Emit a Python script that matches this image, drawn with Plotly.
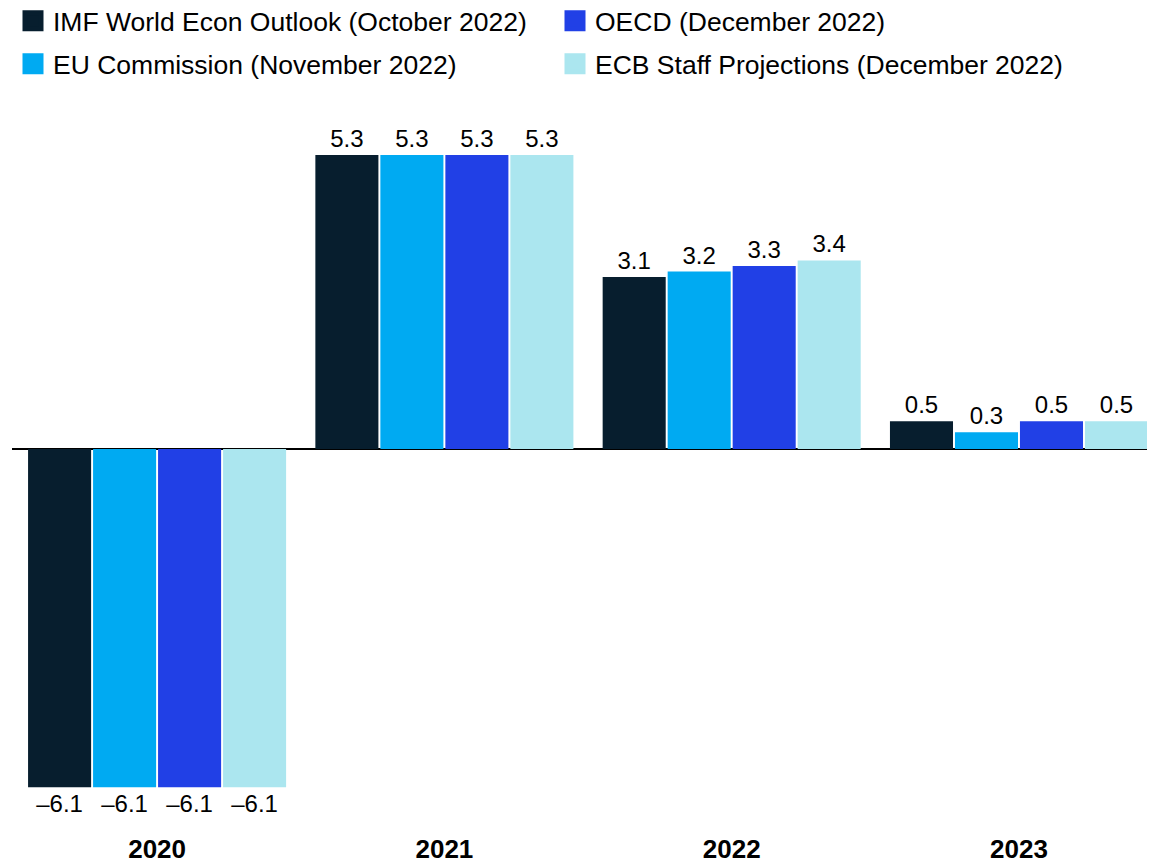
import plotly.graph_objects as go

years = ["2020", "2021", "2022", "2023"]
series_names = [
    "IMF World Econ Outlook (October 2022)",
    "EU Commission (November 2022)",
    "OECD (December 2022)",
    "ECB Staff Projections (December 2022)",
]
imf = [-6.1, 5.3, 3.1, 0.5]
eu = [-6.1, 5.3, 3.2, 0.3]
oecd = [-6.1, 5.3, 3.3, 0.5]
ecb = [-6.1, 5.3, 3.4, 0.5]
values = [imf, eu, oecd, ecb]
colors = ["#071e2e", "#00aaf2", "#2140e6", "#abe6ef"]
legend_ids = ["legend", "legend2", "legend", "legend2"]
ranks = [1, 3, 2, 4]

FONT = "Liberation Sans, Arial, sans-serif"


def fmt(v):
    return f"{v:.1f}".replace("-", "\u2013")


fig = go.Figure()
for name, vals, col in zip(series_names, values, colors):
    fig.add_trace(go.Bar(
        x=years, y=vals, name=name, showlegend=False,
        marker=dict(color=col, line=dict(width=0)),
        text=[fmt(v) for v in vals],
        textposition="outside",
        textfont=dict(family=FONT, size=24, color="#000000"),
        cliponaxis=False,
    ))

# legend entries (square swatches)
for name, col, lg, rk in zip(series_names, colors, legend_ids, ranks):
    fig.add_trace(go.Scatter(
        x=[None], y=[None], mode="markers", name=name,
        marker=dict(symbol="square", size=16, color=col,
                    line=dict(color=col, width=5)),
        legend=lg, legendrank=rk, hoverinfo="skip",
    ))

# page has an 8px body margin, so the figure is drawn 8px in from the corner
W, H = 1147, 857
top, bot = 92, 823
px_per_unit = 55.45
zero_px = 441
y_max = (zero_px - top) / px_per_unit
y_min = -(bot - zero_px) / px_per_unit
left = 4
cat_px = 287.3
x0 = -0.505
x1 = x0 + (W - left) / cat_px


def cy(px):
    return 1 - px / H


legend_common = dict(
    orientation="h", xref="container", yref="container",
    xanchor="left", yanchor="middle", x=5 / W,
    entrywidth=497, entrywidthmode="pixels",
    font=dict(family=FONT, size=26.5, color="#000000"),
    bgcolor="rgba(0,0,0,0)", traceorder="normal",
)

fig.update_layout(
    width=W, height=H,
    margin=dict(l=left, r=0, t=top, b=H - bot, autoexpand=False),
    paper_bgcolor="white", plot_bgcolor="white",
    barmode="group", bargap=0.095, bargroupgap=0.03,
    font=dict(family=FONT, size=24, color="#000000"),
    showlegend=True,
    legend=dict(y=cy(13), **legend_common),
    legend2=dict(y=cy(56), **legend_common),
    xaxis=dict(
        type="category", range=[x0, x1],
        showgrid=False, showline=False, ticks="",
        tickfont=dict(family=FONT, size=26, color="#000000", weight="bold"),
    ),
    yaxis=dict(
        range=[y_min, y_max], showgrid=False, showticklabels=False,
        zeroline=True, zerolinecolor="#000000", zerolinewidth=1.5,
        showline=False, ticks="",
    ),
)

fig.write_html("out.html")
